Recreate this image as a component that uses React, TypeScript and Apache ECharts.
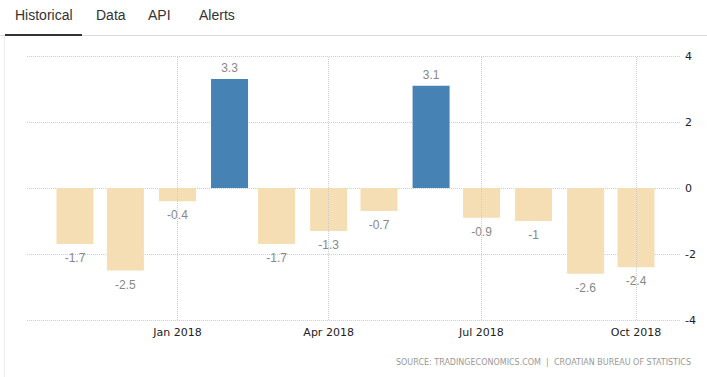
import React, { useEffect, useRef } from "react";
import * as echarts from "echarts";

const monthNames = ["Jan", "Feb", "Mar", "Apr", "May", "Jun", "Jul", "Aug", "Sep", "Oct", "Nov", "Dec"];
const periods: [number, number][] = [
  [2017, 10], [2017, 11], [2018, 0], [2018, 1], [2018, 2], [2018, 3],
  [2018, 4], [2018, 5], [2018, 6], [2018, 7], [2018, 8], [2018, 9],
];
const values = [-1.7, -2.5, -0.4, 3.3, -1.7, -1.3, -0.7, 3.1, -0.9, -1, -2.6, -2.4];
const tickPeriods: [number, number][] = [[2018, 0], [2018, 3], [2018, 6], [2018, 9]];
const yMin = -4;
const yMax = 4;
const yStep = 2;
const tabs = ["Historical", "Data", "API", "Alerts"];
const tabX = [15, 96, 148, 199];
const sourceText = "SOURCE: TRADINGECONOMICS.COM  |  CROATIAN BUREAU OF STATISTICS";

const ts = (p: [number, number]) => new Date(p[0], p[1], 1).getTime();

export default function App() {
  const ref = useRef<HTMLDivElement>(null);
  useEffect(() => {
    if (!ref.current) return;
    const chart = echarts.init(ref.current, undefined, { renderer: "svg" });
    const tickTs = tickPeriods.map(ts);
    const option: any = {
      animation: false,
      backgroundColor: "#fff",
      grid: { left: 27, right: 26, top: 56, bottom: 57 },
      xAxis: {
        type: "value",
        scale: true,
        min: new Date(2017, 9, 3, 10).getTime(),
        max: new Date(2018, 9, 27, 19).getTime(),
        axisLine: { show: false },
        axisTick: { show: true, customValues: tickTs, length: 5, lineStyle: { color: "#ccc", type: "dotted" } },
        axisLabel: {
          customValues: tickTs,
          formatter: (v: number) => {
            const d = new Date(v);
            return monthNames[d.getMonth()] + " " + d.getFullYear();
          },
          color: "#222",
          fontSize: 11,
          fontFamily: "DejaVu Sans",
          margin: 7,
        },
        splitLine: { show: false },
      },
      yAxis: {
        type: "value",
        position: "right",
        min: yMin,
        max: yMax,
        interval: yStep,
        axisLine: { show: false },
        axisTick: { show: false },
        axisLabel: { color: "#222", fontSize: 11, fontFamily: "DejaVu Sans", margin: 4 },
        splitLine: { lineStyle: { color: "#ccc", type: "dotted" } },
      },
      series: [
        {
          type: "bar",
          barWidth: 37,
          label: {
            show: true,
            color: "#888",
            fontSize: 12,
            fontFamily: "Arial, 'Liberation Sans'",
            formatter: (p: any) => String(p.value[1]),
          },
          data: periods.map((p, i) => {
            const v = values[i];
            return {
              value: [ts(p), v],
              itemStyle: { color: v >= 0 ? "#4682B4" : "#F5DEB3" },
              label: { position: v >= 0 ? "top" : "bottom", distance: v >= 0 ? 5 : 8 },
            };
          }),
          markLine: {
            silent: true,
            symbol: "none",
            label: { show: false },
            lineStyle: { color: "#ccc", type: "dotted", width: 1 },
            data: tickTs.map((t) => ({ xAxis: t })),
          },
          z: 3,
        },
      ],
      graphic: [
        { type: "line", shape: { x1: 0, y1: 35.5, x2: 707, y2: 35.5 }, style: { stroke: "#ddd", lineWidth: 1 } },
        { type: "line", shape: { x1: 4.5, y1: 36, x2: 4.5, y2: 377 }, style: { stroke: "#eee", lineWidth: 1 } },
        { type: "rect", shape: { x: 5, y: 34, width: 77, height: 2 }, style: { fill: "#333" } },
        ...tabs.map((t, i) => ({
          type: "text",
          x: tabX[i],
          y: 14.5,
          style: {
            text: t,
            fill: "#333",
            font: "14px Arial, 'Liberation Sans'",
            textAlign: "left",
            textVerticalAlign: "middle",
          },
        })),
        {
          type: "text",
          x: 691,
          y: 362,
          style: {
            text: sourceText,
            fill: "#999",
            font: "8px 'DejaVu Sans'",
            textAlign: "right",
            textVerticalAlign: "middle",
          },
        },
      ],
    };
    chart.setOption(option);
    return () => chart.dispose();
  }, []);
  return (
    <div style={{ position: "fixed", left: 0, top: 0, width: 707, height: 377, background: "#fff" }}>
      <div ref={ref} style={{ width: 707, height: 377 }} />
    </div>
  );
}
